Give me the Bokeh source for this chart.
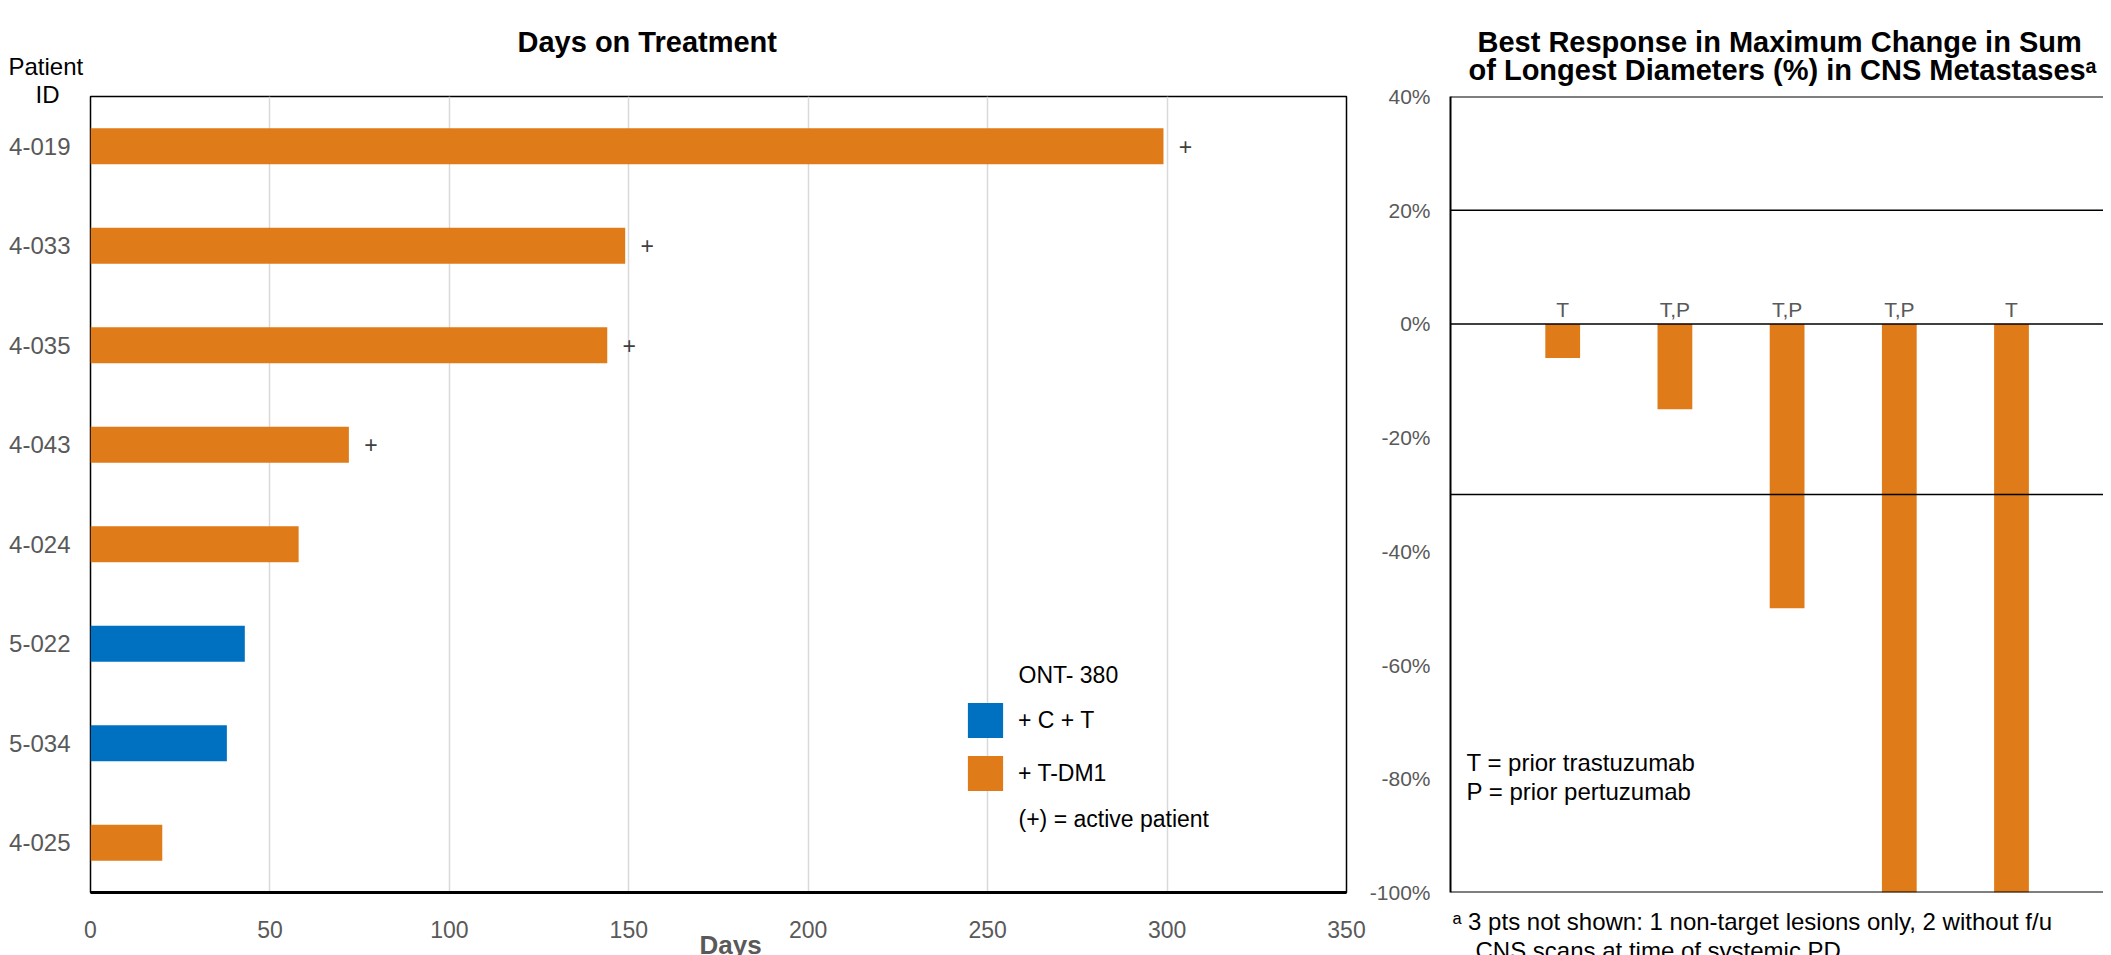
from bokeh.plotting import figure
from bokeh.models import (FactorRange, Range1d, Label, Span, ColumnDataSource, Title,
                          FixedTicker, PrintfTickFormatter, Legend, LegendItem)
from bokeh.layouts import row
from bokeh.embed import file_html
from bokeh.resources import INLINE
from bokeh.core.properties import value

# ---------------- data ----------------
patients = ["4-019", "4-033", "4-035", "4-043", "4-024", "5-022", "5-034", "4-025"]
days = [299, 149, 144, 72, 58, 43, 38, 20]
treatment = ["T-DM1", "T-DM1", "T-DM1", "T-DM1", "T-DM1", "C+T", "C+T", "T-DM1"]
active = [True, True, True, True, False, False, False, False]
day_ticks = [0, 50, 100, 150, 200, 250, 300, 350]

resp_pos = [1, 2, 3, 4, 5]
resp_change = [-6, -15, -50, -100, -100]
resp_prior = ["T", "T,P", "T,P", "T,P", "T"]
resp_ticks = [-100, -80, -60, -40, -20, 0, 20, 40]
thresholds = [20, 0, -30]

# ---------------- style ----------------
FONT = "Liberation Sans"
ORANGE = "#E07B19"
BLUE = "#0070C0"
GREY = "#595959"


def title(p, side, text, offset, standoff, size, style="normal", color="black"):
    p.add_layout(Title(text=text, align="left", offset=offset, standoff=standoff,
                       text_font=FONT, text_font_size=size, text_font_style=style,
                       text_color=color), side)


def lab(p, x, y, text, size="23px", color="black", align="left", baseline="middle"):
    p.add_layout(Label(x=x, y=y, x_units="screen", y_units="screen", text=text,
                       text_font=FONT, text_font_size=size, text_color=color,
                       text_align=align, text_baseline=baseline))


# ---------------- left: days on treatment ----------------
p1 = figure(width=1366, height=955, output_backend="svg", toolbar_location=None,
            y_range=FactorRange(*reversed(patients)), x_range=Range1d(0, 350),
            min_border_left=90, min_border_right=20, min_border_top=96, min_border_bottom=63)
p1.outline_line_color = "black"
p1.outline_line_width = 1.5

blue_src = ColumnDataSource(dict(patient=[p for p, t in zip(patients, treatment) if t == "C+T"],
                                 days=[d for d, t in zip(days, treatment) if t == "C+T"]))
orange_src = ColumnDataSource(dict(patient=[p for p, t in zip(patients, treatment) if t == "T-DM1"],
                                   days=[d for d, t in zip(days, treatment) if t == "T-DM1"]))
r_blue = p1.hbar(y="patient", right="days", left=0, height=0.36, source=blue_src,
                 fill_color=BLUE, line_color=None)
r_orange = p1.hbar(y="patient", right="days", left=0, height=0.36, source=orange_src,
                   fill_color=ORANGE, line_color=None)

act_src = ColumnDataSource(dict(patient=[p for p, a in zip(patients, active) if a],
                                days=[d for d, a in zip(days, active) if a]))
p1.text(x="days", y="patient", text=value("+"), source=act_src, x_offset=22,
        text_align="center", text_baseline="middle", text_font=value(FONT),
        text_font_size="23px", text_color="#404040")

p1.xaxis.ticker = FixedTicker(ticks=day_ticks)
p1.xaxis.major_label_text_font = FONT
p1.xaxis.major_label_text_font_size = "23px"
p1.xaxis.major_label_text_color = GREY
p1.xaxis.major_tick_out = 0
p1.xaxis.major_tick_in = 0
p1.xaxis.minor_tick_out = 0
p1.xaxis.minor_tick_in = 0
p1.xaxis.major_label_standoff = 28
p1.xaxis.axis_line_color = "black"
p1.xaxis.axis_line_width = 3

p1.yaxis.major_label_text_font = FONT
p1.yaxis.major_label_text_font_size = "24px"
p1.yaxis.major_label_text_color = GREY
p1.yaxis.major_tick_out = 0
p1.yaxis.major_tick_in = 0
p1.yaxis.major_label_standoff = 20
p1.yaxis.axis_line_color = None

p1.ygrid.grid_line_color = None
p1.xgrid.grid_line_color = "#D9D9D9"
p1.xgrid.grid_line_width = 1.5

legend = Legend(items=[LegendItem(label="+ C + T", renderers=[r_blue]),
                       LegendItem(label="+ T-DM1", renderers=[r_orange])],
                location=(873, 97), orientation="vertical",
                glyph_width=44, glyph_height=44, label_height=44, spacing=9,
                label_standoff=11, padding=0, margin=0,
                border_line_color=None, background_fill_alpha=0,
                label_text_font=FONT, label_text_font_size="23px", label_text_color="black")
p1.add_layout(legend, "center")

lab(p1, 928, 218, "ONT- 380")
lab(p1, 928, 74, "(+) = active patient")

# header texts (stacked outward from the frame)
title(p1, "above", "ID", -55, -22, "24px")
title(p1, "above", "Patient", -82, 20, "24px")
title(p1, "above", "Days on Treatment", 427, -34, "29px", style="bold")
# axis title below the tick labels
title(p1, "below", "Days", 609, -26, "26px", style="bold", color=GREY)

# ---------------- right: best response ----------------
p2 = figure(width=737, height=955, output_backend="svg", toolbar_location=None,
            x_range=Range1d(0, 5.82), y_range=Range1d(-100, 40),
            min_border_left=82, min_border_right=0, min_border_top=96, min_border_bottom=63)
p2.outline_line_color = None
p2.grid.grid_line_color = None
p2.xaxis.visible = False

rsrc = ColumnDataSource(dict(x=resp_pos, change=resp_change, prior=resp_prior))
p2.vbar(x="x", top=0, bottom="change", width=0.31, source=rsrc,
        fill_color=ORANGE, line_color=None)
p2.text(x="x", y=0, text="prior", source=rsrc, y_offset=-3,
        text_align="center", text_baseline="bottom", text_font=value(FONT),
        text_font_size="21px", text_color=GREY)

for t in thresholds:
    p2.add_layout(Span(location=t, dimension="width", line_color="black", line_width=1.5))
p2.add_layout(Span(location=p2.y_range.end, dimension="width", line_color="black", line_width=2))
p2.add_layout(Span(location=p2.y_range.start, dimension="width", line_color="black", line_width=2))

p2.yaxis.ticker = FixedTicker(ticks=resp_ticks)
p2.yaxis.formatter = PrintfTickFormatter(format="%d%%")
p2.yaxis.major_label_text_font = FONT
p2.yaxis.major_label_text_font_size = "21px"
p2.yaxis.major_label_text_color = GREY
p2.yaxis.major_tick_out = 0
p2.yaxis.major_tick_in = 0
p2.yaxis.minor_tick_out = 0
p2.yaxis.minor_tick_in = 0
p2.yaxis.major_label_standoff = 20
p2.yaxis.axis_line_color = "black"
p2.yaxis.axis_line_width = 2

lab(p2, 16, 130, "T = prior trastuzumab", size="24px")
lab(p2, 16, 101, "P = prior pertuzumab", size="24px")

title(p2, "above", "of Longest Diameters (%) in CNS Metastases\u1d43", 18, 21, "29px", style="bold")
title(p2, "above", "Best Response in Maximum Change in Sum", 27, -32, "29px", style="bold")
title(p2, "below", "\u1d43   3 pts not shown: 1 non-target lesions only, 2 without f/u", 2, 27, "24px")
title(p2, "below", "CNS scans at time of systemic PD", 25, -28, "24px")

layout = row(p1, p2)
open("out.html", "w").write(file_html(layout, INLINE))
